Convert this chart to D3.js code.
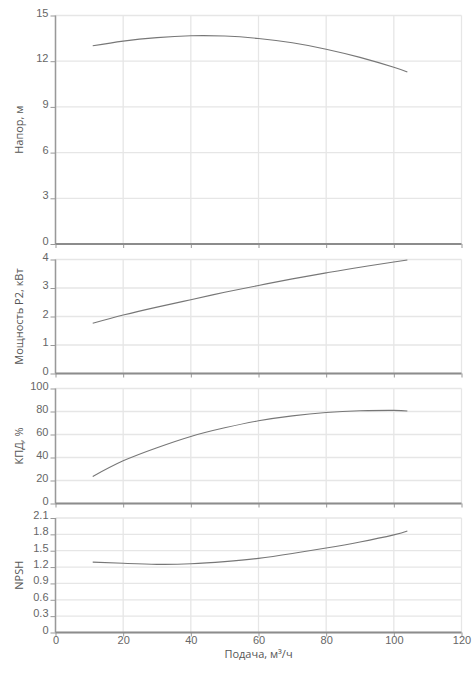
<!DOCTYPE html>
<html>
<head>
<meta charset="utf-8">
<script src="https://cdn.jsdelivr.net/npm/d3@7"></script>
<style>
  body { margin: 0; background: #fff; }
  svg { font-family: "Open Sans", sans-serif; }
  .tick text { fill: #666; font-size: 11px; }
  .axisTitle { fill: #555; font-size: 11px; }
</style>
</head>
<body>
<div id="chart"></div>
<script>
// pump curves
let flow = [11, 20, 30, 40, 50, 60, 70, 80, 90, 100, 104];
let head = [13.01, 13.32, 13.55, 13.67, 13.65, 13.49, 13.21, 12.79, 12.25, 11.6, 11.29];
let power = [1.76, 2.05, 2.33, 2.59, 2.85, 3.09, 3.32, 3.53, 3.73, 3.91, 3.98];
let efficiency = [23.5, 37.1, 48.5, 58.3, 65.8, 71.9, 76.2, 79.1, 80.6, 81.0, 80.4];
let npsh = [1.29, 1.27, 1.25, 1.26, 1.30, 1.36, 1.45, 1.55, 1.66, 1.79, 1.86];

let xTicks = [0, 20, 40, 60, 80, 100, 120];
let headTicks = [0, 3, 6, 9, 12, 15];
let powerTicks = [0, 1, 2, 3, 4];
let effTicks = [0, 20, 40, 60, 80, 100];
let npshTicks = [0, 0.3, 0.6, 0.9, 1.2, 1.5, 1.8, 2.1];

let svgWidth = 472;
let svgHeight = 678;

let svg = d3.select("#chart")
  .append("svg")
  .attr("width", svgWidth)
  .attr("height", svgHeight);

let xScale = d3.scaleLinear()
  .domain([0, 120])
  .range([55.5, 461.5]);

// each panel: title, values, ticks, top and bottom pixel
let panels = [
  { title: "Напор, м", values: head, ticks: headTicks, top: 15.5, bottom: 244 },
  { title: "Мощность P2, кВт", values: power, ticks: powerTicks, top: 259.5, bottom: 373.5 },
  { title: "КПД, %", values: efficiency, ticks: effTicks, top: 388.5, bottom: 503.5 },
  { title: "NPSH", values: npsh, ticks: npshTicks, top: 518, bottom: 632.5 }
];

panels.forEach(function(p, i) {
  let yScale = d3.scaleLinear()
    .domain([d3.min(p.ticks), d3.max(p.ticks)])
    .range([p.bottom, p.top]);

  let g = svg.append("g");

  // grid
  g.append("g").selectAll("line.v")
    .data(xTicks)
    .enter()
    .append("line")
    .attr("x1", d => xScale(d))
    .attr("x2", d => xScale(d))
    .attr("y1", p.top)
    .attr("y2", p.bottom)
    .attr("stroke", "#e6e6e6")
    .attr("stroke-width", 1.3);

  g.append("g").selectAll("line.h")
    .data(p.ticks)
    .enter()
    .append("line")
    .attr("x1", xScale(0))
    .attr("x2", xScale(120))
    .attr("y1", d => yScale(d))
    .attr("y2", d => yScale(d))
    .attr("stroke", "#e6e6e6")
    .attr("stroke-width", 1.3);

  // left axis
  let leftAxis = d3.axisLeft(yScale)
    .tickValues(p.ticks)
    .tickSize(5)
    .tickPadding(2)
    .tickFormat(d => String(+d.toFixed(1)));

  let yAxis = g.append("g")
    .attr("transform", `translate(${xScale(0)}, 0)`)
    .call(leftAxis);
  yAxis.select(".domain").remove();
  yAxis.selectAll(".tick line").attr("stroke", "#999");
  yAxis.selectAll(".tick text").attr("dy", "0.05em");
  yAxis.append("line")
    .attr("x1", 0).attr("x2", 0)
    .attr("y1", p.top).attr("y2", p.bottom)
    .attr("stroke", "#999")
    .attr("stroke-width", 1.5);

  // bottom axis
  let bottomAxis = d3.axisBottom(xScale)
    .tickValues(xTicks)
    .tickSize(4)
    .tickPadding(0);
  if (i < panels.length - 1) bottomAxis.tickFormat("");

  let xAxis = g.append("g")
    .attr("transform", `translate(0, ${p.bottom})`)
    .call(bottomAxis);
  xAxis.select(".domain").remove();
  xAxis.selectAll(".tick line").attr("stroke", "#999");
  xAxis.append("line")
    .attr("x1", xScale(0)).attr("x2", xScale(120))
    .attr("y1", 0).attr("y2", 0)
    .attr("stroke", "#8c8c8c")
    .attr("stroke-width", 2);

  // curve
  let line = d3.line()
    .x((d, j) => xScale(flow[j]))
    .y(d => yScale(d))
    .curve(d3.curveNatural);

  g.append("path")
    .datum(p.values)
    .attr("d", line)
    .attr("fill", "none")
    .attr("stroke", "#777")
    .attr("stroke-width", 1.1);

  // axis title
  g.append("text")
    .attr("class", "axisTitle")
    .attr("transform", `translate(19, ${(p.top + p.bottom) / 2}) rotate(-90)`)
    .attr("text-anchor", "middle")
    .attr("dy", "0.35em")
    .text(p.title);
});

svg.append("text")
  .attr("class", "axisTitle")
  .attr("x", (xScale(0) + xScale(120)) / 2)
  .attr("y", 658)
  .attr("text-anchor", "middle")
  .text("Подача, м³/ч");
</script>
</body>
</html>
